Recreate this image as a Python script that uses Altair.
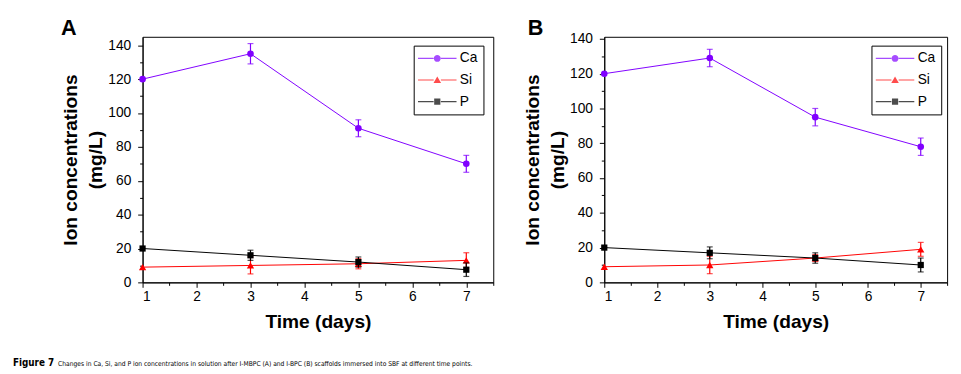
import altair as alt
import pandas as pd

# ---------------- data ----------------
days = [1, 3, 5, 7]
series_names = ["Ca", "Si", "P"]
series_colors = ["#8000ff", "#ff0000", "#000000"]

# Panel A (I-MBPC)
ca_a = [120, 135, 91, 70]
ca_a_err = [0, 6, 5, 5]
si_a = [9, 10, 11, 13]
si_a_err = [0, 5, 3, 4.5]
p_a = [20, 16, 12, 7.5]
p_a_err = [0, 3, 3, 4]

# Panel B (I-BPC)
ca_b = [120, 129, 95, 78]
ca_b_err = [0, 5, 5, 5]
si_b = [9, 10, 14, 19]
si_b_err = [0, 5, 2, 4]
p_b = [20, 17, 14, 10]
p_b_err = [0, 3.4, 3, 4]

x_ticks = [1, 2, 3, 4, 5, 6, 7]
x_minor = [1.5, 2.5, 3.5, 4.5, 5.5, 6.5, 7.5]
y_ticks = [0, 20, 40, 60, 80, 100, 120, 140]
y_minor = [10, 30, 50, 70, 90, 110, 130]

caption_bold = "Figure 7"
caption_rest = ("Changes in Ca, Si, and P ion concentrations in solution after I-MBPC (A) "
                "and I-BPC (B) scaffolds immersed into SBF at different time points.")

FONT = "Liberation Sans"
NARROW = "Liberation Sans Narrow, DejaVu Sans Condensed, sans-serif"


def make_df(ca, ca_e, si, si_e, p, p_e):
    rows = []
    for name, vals, errs in (("Ca", ca, ca_e), ("Si", si, si_e), ("P", p, p_e)):
        for d, v, e in zip(days, vals, errs):
            rows.append({"day": d, "series": name, "value": v, "err": e,
                         "lo": v - e, "hi": v + e})
    return pd.DataFrame(rows)


# legend symbols: marker + line segment (thin filled bars left/right)
seg = "M-5.6,-0.16H-1.05V0.16H-5.6Z M1.05,-0.16H5.6V0.16H1.05Z "
legend_paths = [
    seg + "M0,-1A1,1,0,1,1,0,1A1,1,0,1,1,0,-1Z",
    seg + "M0,-1.05L1.1,0.85L-1.1,0.85Z",
    seg + "M-0.9,-0.9H0.9V0.9H-0.9Z",
]
shapes = ["circle", "triangle-up", "square"]
sizes = [45, 55, 40]


def panel(df, ymax, letter, w, h, letter_dx, letter_dy, leg_x, leg_y,
          caption=False):
    xs = alt.Scale(domain=[1, 7.5], nice=False, zero=False)
    ys = alt.Scale(domain=[0, ymax], nice=False, zero=True)
    base = alt.Chart(df)
    X = lambda f="day:Q": alt.X(f, scale=xs, axis=None)
    Y = lambda f="value:Q": alt.Y(f, scale=ys, axis=None)

    x_major = alt.Axis(values=x_ticks, orient="bottom", title="Time (days)",
                       format="d", tickSize=5, labelPadding=2, titlePadding=10,
                       grid=False)
    y_major = alt.Axis(values=y_ticks, orient="left",
                       title=["Ion concentrations", "(mg/L)"],
                       tickSize=5, labelPadding=7, titlePadding=2, grid=False,
                       titleLineHeight=26)

    # axes layer (major + minor ticks)
    major = base.mark_point(opacity=0).encode(
        x=alt.X("day:Q", scale=xs, axis=x_major),
        y=alt.Y("value:Q", scale=ys, axis=y_major),
    )
    minor = base.mark_point(opacity=0).encode(
        x=alt.X("day:Q", scale=xs,
                axis=alt.Axis(values=x_minor, orient="bottom", labels=False,
                              tickSize=3, domain=False, grid=False, title=None)),
        y=alt.Y("value:Q", scale=ys,
                axis=alt.Axis(values=y_minor, orient="left", labels=False,
                              tickSize=3, domain=False, grid=False, title=None)),
    )

    layers = [major, minor]
    for name, col, shp, sz in zip(series_names, series_colors, shapes, sizes):
        s = base.transform_filter(alt.datum.series == name)
        e = s.transform_filter("datum.err > 0")
        layers.append(s.mark_line(strokeWidth=1, color=col).encode(x=X(), y=Y()))
        layers.append(e.mark_rule(strokeWidth=1.2, color=col).encode(
            x=X(), y=Y("lo:Q"), y2="hi:Q"))
        layers.append(e.transform_fold(["lo", "hi"], as_=["which", "yv"]).mark_tick(
            orient="horizontal", size=6, thickness=1.2, color=col).encode(
            x=X(), y=Y("yv:Q")))
        layers.append(s.mark_point(shape=shp, filled=True, size=sz, color=col,
                                   opacity=1).encode(x=X(), y=Y()))

    leg = alt.Legend(title=None, orient="none", legendX=leg_x, legendY=leg_y,
                     symbolSize=49, symbolStrokeWidth=0,
                     labelFont=FONT, labelFontSize=14, labelColor="black",
                     strokeColor="black", padding=6, rowPadding=8,
                     symbolOffset=11, labelOffset=16)
    legend_layer = base.transform_filter("datum.day < 0").mark_point(
        filled=True, size=49).encode(
        x=X(), y=Y(),
        color=alt.Color("series:N",
                        scale=alt.Scale(domain=series_names, range=series_colors),
                        legend=leg),
        shape=alt.Shape("series:N",
                        scale=alt.Scale(domain=series_names, range=legend_paths),
                        legend=leg),
    )
    layers.append(legend_layer)

    layers.append(alt.Chart(pd.DataFrame({"t": [letter]})).mark_text(
        align="left", baseline="alphabetic", font=FONT, fontSize=22,
        fontWeight="bold", color="black").encode(
        text="t:N", x=alt.value(letter_dx), y=alt.value(letter_dy)))

    if caption:
        layers.append(alt.Chart(pd.DataFrame({"t": [caption_bold]})).mark_text(
            align="left", baseline="alphabetic", font=NARROW, fontSize=10,
            fontWeight="bold", color="black").encode(
            text="t:N", x=alt.value(-132), y=alt.value(335)))
        layers.append(alt.Chart(pd.DataFrame({"t": [caption_rest]})).mark_text(
            align="left", baseline="alphabetic", font=NARROW, fontSize=6.8,
            color="black").encode(
            text="t:N", x=alt.value(-86), y=alt.value(335)))

    layered = alt.layer(*layers).resolve_axis(x="independent", y="independent")
    return layered.properties(width=w, height=h)


dfa = make_df(ca_a, ca_a_err, si_a, si_a_err, p_a, p_a_err)
dfb = make_df(ca_b, ca_b_err, si_b, si_b_err, p_b, p_b_err)

pa = panel(dfa, 145, "A", 357, 250, -83, -2, 276, 9, caption=True)
pb = panel(dfb, 141.2, "B", 349, 250, -78, -2, 272, 9)

chart = alt.hconcat(pa, pb, spacing=28).resolve_scale(
    color="independent", shape="independent").resolve_legend(
    color="independent", shape="independent").properties(
    padding={"left": 4, "top": 5, "right": 5, "bottom": 5},
).configure_view(stroke="black", strokeWidth=1).configure_axis(
    domainColor="black", tickColor="black", labelColor="black",
    titleColor="black", labelFont=FONT, labelFontSize=14, titleFont=FONT,
    titleFontSize=19.5, titleFontWeight="bold", domainWidth=1, tickWidth=1,
)

chart.save("out.html", embed_options={"renderer": "svg", "actions": False})
